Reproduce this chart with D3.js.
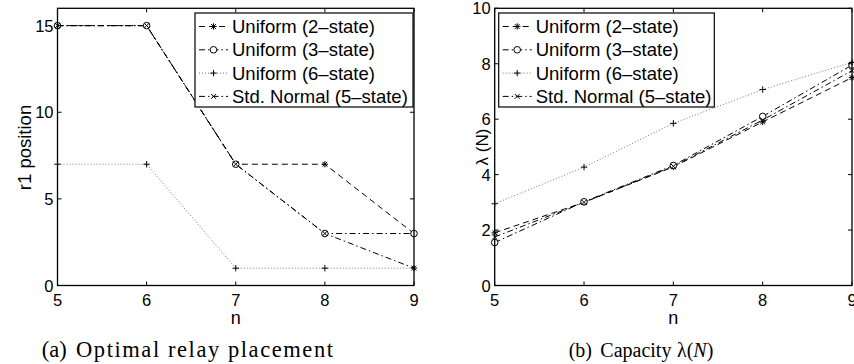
<!DOCTYPE html>
<html>
<head>
<meta charset="utf-8">
<script src="https://cdn.jsdelivr.net/npm/d3@7"></script>
<style>
  body { margin: 0; background: #fff; }
  text { font-family: "Liberation Sans", Arial, sans-serif; fill: #000; }
  .caption { font-family: "Liberation Serif", "Times New Roman", serif; }
</style>
</head>
<body>
<div id="chart"></div>
<script>
// x values shared by both panels
var nValues = [5, 6, 7, 8, 9];

var seriesNames = ["Uniform (2\u2013state)", "Uniform (3\u2013state)", "Uniform (6\u2013state)", "Std. Normal (5\u2013state)"];

// (a) optimal relay placement
var r1Uniform2 = [15, 15, 7, 7, 3];
var r1Uniform3 = [15, 15, 7, 3, 3];
var r1Uniform6 = [7, 7, 1, 1, 1];
var r1StdNormal5 = [15, 15, 7, 3, 1];

// (b) capacity
var capUniform2 = [1.9, 3.0, 4.28, 5.9, 7.5];
var capUniform3 = [1.55, 3.02, 4.33, 6.1, 7.95];
var capUniform6 = [2.95, 4.27, 5.85, 7.07, 8.05];
var capStdNormal5 = [1.75, 3.0, 4.3, 5.97, 7.75];

var xTicks = [5, 6, 7, 8, 9];
var r1Ticks = [0, 5, 10, 15];
var capTicks = [0, 2, 4, 6, 8, 10];

// line style per series: dashed, dash-dot, dotted, dash-dot
var styles = [
  {dash: "6,4", stroke: "#000", marker: "star"},
  {dash: "6,3,1.5,3", stroke: "#000", marker: "circle"},
  {dash: "1,2", stroke: "#777", marker: "plus"},
  {dash: "6,3,1.5,3", stroke: "#000", marker: "cross"}
];

var width = 854, height = 364;
var svg = d3.select("#chart").append("svg")
    .attr("width", width)
    .attr("height", height);

function drawMarker(g, type, x, y) {
  var s = 3.2;
  if (type == "circle") {
    g.append("circle").attr("cx", x).attr("cy", y).attr("r", 3.3)
      .attr("fill", "#fff").attr("stroke", "#000").attr("stroke-width", 1);
    return;
  }
  var p = d3.path();
  if (type == "plus" || type == "star") {
    p.moveTo(x - s, y); p.lineTo(x + s, y);
    p.moveTo(x, y - s); p.lineTo(x, y + s);
  }
  if (type == "cross" || type == "star") {
    var d = s * 0.75;
    p.moveTo(x - d, y - d); p.lineTo(x + d, y + d);
    p.moveTo(x - d, y + d); p.lineTo(x + d, y - d);
  }
  g.append("path").attr("d", p.toString())
    .attr("stroke", "#000").attr("stroke-width", 1).attr("fill", "none");
}

function drawPanel(opt) {
  var x = d3.scaleLinear().domain([5, 9]).range([opt.left, opt.right]);
  var y = d3.scaleLinear().domain(opt.yDomain).range([285.5, 8.3]);
  var g = svg.append("g");

  // series lines
  var line = d3.line().x(function(d) { return x(d[0]); }).y(function(d) { return y(d[1]); });
  opt.series.forEach(function(vals, i) {
    var pts = nValues.map(function(n, j) { return [n, vals[j]]; });
    g.append("path").attr("d", line(pts))
      .attr("fill", "none")
      .attr("stroke", styles[i].stroke)
      .attr("stroke-width", 1)
      .attr("stroke-dasharray", styles[i].dash);
  });
  opt.series.forEach(function(vals, i) {
    vals.forEach(function(v, j) { drawMarker(g, styles[i].marker, x(nValues[j]), y(v)); });
  });

  // box and ticks (inside, all four sides)
  var x0 = x.range()[0], x1 = x.range()[1], y0 = y.range()[0], y1 = y.range()[1];
  var tl = 4;
  xTicks.forEach(function(t) {
    g.append("line").attr("x1", x(t)).attr("x2", x(t)).attr("y1", y0).attr("y2", y0 - tl).attr("stroke", "#000");
    g.append("line").attr("x1", x(t)).attr("x2", x(t)).attr("y1", y1).attr("y2", y1 + tl).attr("stroke", "#000");
    g.append("text").attr("x", x(t)).attr("y", 305.5).attr("text-anchor", "middle")
      .style("font-size", "16.5px").text(t);
  });
  opt.yTicks.forEach(function(t) {
    g.append("line").attr("x1", x0).attr("x2", x0 + tl).attr("y1", y(t)).attr("y2", y(t)).attr("stroke", "#000");
    g.append("line").attr("x1", x1).attr("x2", x1 - tl).attr("y1", y(t)).attr("y2", y(t)).attr("stroke", "#000");
    g.append("text").attr("x", x0 - 4).attr("y", y(t) + 6).attr("text-anchor", "end")
      .style("font-size", "16.5px").text(t);
  });
  g.append("rect").attr("x", x0).attr("y", y1).attr("width", x1 - x0).attr("height", y0 - y1)
    .attr("fill", "none").attr("stroke", "#000").attr("stroke-width", 1.3);

  // axis labels
  g.append("text").attr("x", (x0 + x1) / 2).attr("y", 323.5).attr("text-anchor", "middle")
    .style("font-size", "18px").text("n");
  g.append("text")
    .attr("transform", "translate(" + opt.ylabX + "," + opt.ylabY + ") rotate(-90)")
    .attr("text-anchor", "middle").style("font-size", opt.ylabSize).text(opt.ylabel);

  // legend
  var lg = g.append("g");
  lg.append("rect").attr("x", opt.legX).attr("y", 13).attr("width", opt.legW).attr("height", 94)
    .attr("fill", "#fff").attr("stroke", "#000").attr("stroke-width", 1.2);
  seriesNames.forEach(function(name, i) {
    var ly = 26.5 + i * 23.3;
    lg.append("line").attr("x1", opt.legX + 4).attr("x2", opt.legX + 33).attr("y1", ly).attr("y2", ly)
      .attr("stroke", styles[i].stroke).attr("stroke-dasharray", styles[i].dash);
    drawMarker(lg, styles[i].marker, opt.legX + 18.5, ly);
    lg.append("text").attr("x", opt.legX + 37).attr("y", ly + 6.5)
      .style("font-size", "18.5px").text(name);
  });

  // caption
  var cap = g.append("text").attr("class", "caption").attr("y", 357).style("font-size", opt.capSize);
  cap.append("tspan").attr("x", opt.capX).text(opt.capTag);
  opt.capBody(cap);
}

drawPanel({
  left: 57.5, right: 414, yDomain: [0, 16], yTicks: r1Ticks,
  series: [r1Uniform2, r1Uniform3, r1Uniform6, r1StdNormal5],
  ylabel: "r1 position", ylabX: 31, ylabY: 147.5, ylabSize: "18.5px",
  legX: 195, legW: 218,
  capX: 41.7, capTag: "(a)", capSize: "22.5px",
  capBody: function(cap) {
    cap.append("tspan").attr("x", 76).attr("textLength", 257).attr("lengthAdjust", "spacing")
      .text("Optimal relay placement");
  }
});

drawPanel({
  left: 494.7, right: 852, yDomain: [0, 10], yTicks: capTicks,
  series: [capUniform2, capUniform3, capUniform6, capStdNormal5],
  ylabel: "\u03bb (N)", ylabX: 488, ylabY: 147, ylabSize: "17px",
  legX: 498.7, legW: 215.6,
  capX: 568.7, capTag: "(b)", capSize: "20px",
  capBody: function(cap) {
    cap.append("tspan").attr("x", 600.3).text("Capacity");
    cap.append("tspan").attr("x", 677).text("\u03bb(");
    cap.append("tspan").style("font-style", "italic").text("N");
    cap.append("tspan").text(")");
  }
});
</script>
</body>
</html>
